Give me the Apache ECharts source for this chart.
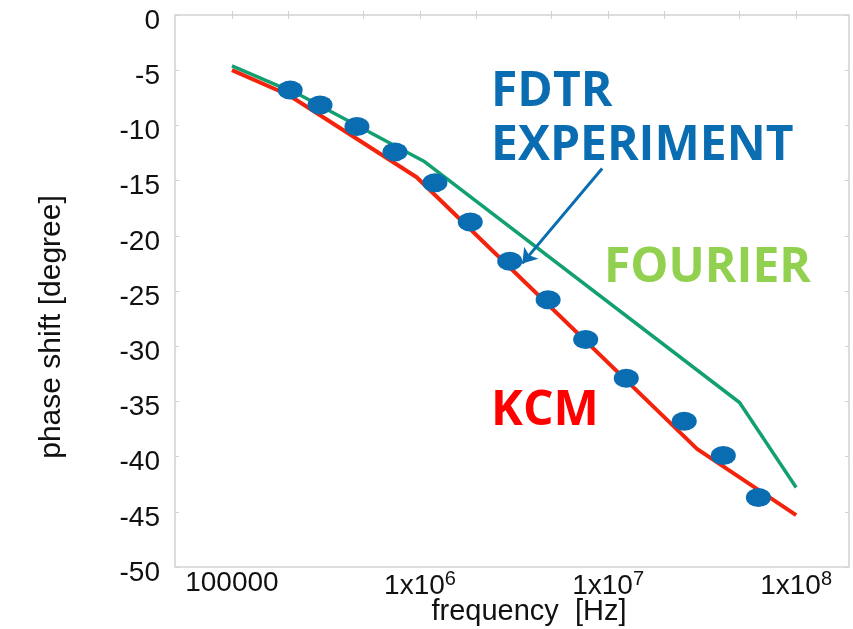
<!DOCTYPE html>
<html>
<head>
<meta charset="utf-8">
<script src="https://cdn.jsdelivr.net/npm/echarts@6/dist/echarts.min.js"></script>
<style>
    html, body { margin: 0; padding: 0; background: #fff; }
    #chart { width: 853px; height: 629px; }
</style>
</head>
<body>
<div id="chart"></div>
<script>
// frequency in Hz, phase in degrees
const kcmFreq = [1e5, 2.0e5, 9.6e5, 2.97e7, 1.0e8]
const kcmPhase = [-5.0, -7.25, -14.7, -39.3, -45.3]
const fourierFreq = [1e5, 2.3e5, 1.06e6, 5.0e7, 1.0e8]
const fourierPhase = [-4.6, -7.25, -13.3, -35.1, -42.8]
const fdtrFreq = [2.04e5, 2.94e5, 4.62e5, 7.36e5, 1.20e6, 1.85e6, 3.0e6, 4.8e6, 7.6e6, 1.25e7, 2.54e7, 4.1e7, 6.3e7]
const fdtrPhase = [-6.8, -8.15, -10.1, -12.4, -15.2, -18.75, -22.3, -25.8, -29.4, -32.9, -36.8, -39.9, -43.7]
const freqLabels = [1e5, 1e6, 1e7, 1e8]
const freqMinor = [2e5, 5e5, 2e6, 5e6, 2e7, 5e7]
const freqRange = [4.98e4, 1.91e8]
const arrowFrom = [9.3e6, -13.9]
const arrowTo = [3.5e6, -22.5]

const lg = Math.log10
const pairs = (xs, ys) => xs.map((x, i) => [lg(x), ys[i]])
const tickVals = freqLabels.concat(freqMinor).map(lg)

const fontFamily = '"Liberation Sans", Arial, sans-serif'
const blue = '#0a6db2'

let myChart = echarts.init(document.getElementById('chart'))
myChart.setOption({
    animation: false,
    grid: {
        left: 175,
        right: 4,
        top: 15,
        bottom: 62,
        outerBoundsMode: 'none',
        containLabel: false,
        show: true,
        borderColor: '#d2d2d2',
        borderWidth: 1.5
    },
    xAxis: [
        {
            type: 'value',
            min: lg(freqRange[0]),
            max: lg(freqRange[1]),
            name: 'frequency  [Hz]',
            nameLocation: 'middle',
            nameGap: 30,
            nameMoveOverlap: false,
            nameTextStyle: {
                fontFamily: fontFamily,
                fontSize: 29,
                color: '#111',
                padding: [0, 0, 0, 34]
            },
            axisLine: { show: false },
            splitLine: { show: false },
            axisTick: {
                inside: true,
                length: 4,
                customValues: tickVals,
                lineStyle: { color: '#d2d2d2' }
            },
            axisLabel: {
                margin: 2,
                customValues: freqLabels.map(lg),
                color: '#111',
                formatter: function (v) {
                    let p = Math.round(v)
                    if (p === 5) return '{b|100000}'
                    return '{b|1x10}{s|' + p + '}'
                },
                rich: {
                    b: { fontFamily: fontFamily, fontSize: 28, color: '#111' },
                    s: { fontFamily: fontFamily, fontSize: 20, color: '#111', padding: [0, 0, 14, 0] }
                }
            }
        },
        {
            type: 'value',
            position: 'top',
            min: lg(freqRange[0]),
            max: lg(freqRange[1]),
            axisLine: { show: false },
            splitLine: { show: false },
            axisLabel: { show: false },
            axisTick: {
                inside: true,
                length: 4,
                customValues: tickVals,
                lineStyle: { color: '#d2d2d2' }
            }
        }
    ],
    yAxis: [
        {
            type: 'value',
            min: -50,
            max: 0,
            interval: 5,
            name: 'phase shift [degree]',
            nameLocation: 'middle',
            nameGap: 108,
            nameMoveOverlap: false,
            nameTextStyle: {
                fontFamily: fontFamily,
                fontSize: 30,
                color: '#111',
                padding: [0, 72, 0, 0]
            },
            axisLine: { show: false },
            splitLine: { show: false },
            axisTick: {
                inside: true,
                length: 4,
                lineStyle: { color: '#d2d2d2' }
            },
            axisLabel: {
                margin: 15,
                color: '#111',
                formatter: '{a|{value}}',
                rich: {
                    a: { fontFamily: fontFamily, fontSize: 28, color: '#111', padding: [12, 0, 0, 0] }
                }
            }
        },
        {
            type: 'value',
            position: 'right',
            min: -50,
            max: 0,
            interval: 5,
            axisLine: { show: false },
            splitLine: { show: false },
            axisLabel: { show: false },
            axisTick: {
                inside: true,
                length: 4,
                lineStyle: { color: '#d2d2d2' }
            }
        }
    ],
    series: [
        {
            name: 'KCM',
            type: 'line',
            data: pairs(kcmFreq, kcmPhase),
            showSymbol: false,
            lineStyle: { color: '#f4230c', width: 4 },
            z: 2
        },
        {
            name: 'FOURIER',
            type: 'line',
            data: pairs(fourierFreq, fourierPhase),
            showSymbol: false,
            lineStyle: { color: '#13a070', width: 3.5 },
            z: 3
        },
        {
            name: 'FDTR EXPERIMENT',
            type: 'scatter',
            data: pairs(fdtrFreq, fdtrPhase),
            symbol: 'circle',
            symbolSize: [25, 19],
            itemStyle: { color: blue, opacity: 1 },
            z: 4,
            markLine: {
                silent: true,
                symbol: ['none', 'arrow'],
                symbolSize: 14,
                label: { show: false },
                lineStyle: { color: blue, width: 3, type: 'solid' },
                data: [[
                    { coord: [lg(arrowFrom[0]), arrowFrom[1]] },
                    { coord: [lg(arrowTo[0]), arrowTo[1]] }
                ]]
            }
        }
    ],
    graphic: [
        {
            type: 'text',
            x: 491,
            y: 92,
            style: {
                text: 'FDTR',
                fill: blue,
                font: 'bold 48px "Open Sans", sans-serif',
                verticalAlign: 'middle'
            }
        },
        {
            type: 'text',
            x: 491,
            y: 146,
            style: {
                text: 'EXPERIMENT',
                fill: blue,
                font: 'bold 48px "Open Sans", sans-serif',
                verticalAlign: 'middle'
            }
        },
        {
            type: 'text',
            x: 604,
            y: 268,
            style: {
                text: 'FOURIER',
                fill: '#92d050',
                font: 'bold 48px "Open Sans", sans-serif',
                verticalAlign: 'middle'
            }
        },
        {
            type: 'text',
            x: 491,
            y: 411,
            style: {
                text: 'KCM',
                fill: '#ff0000',
                font: 'bold 48px "Open Sans", sans-serif',
                verticalAlign: 'middle'
            }
        }
    ]
})
</script>
</body>
</html>
